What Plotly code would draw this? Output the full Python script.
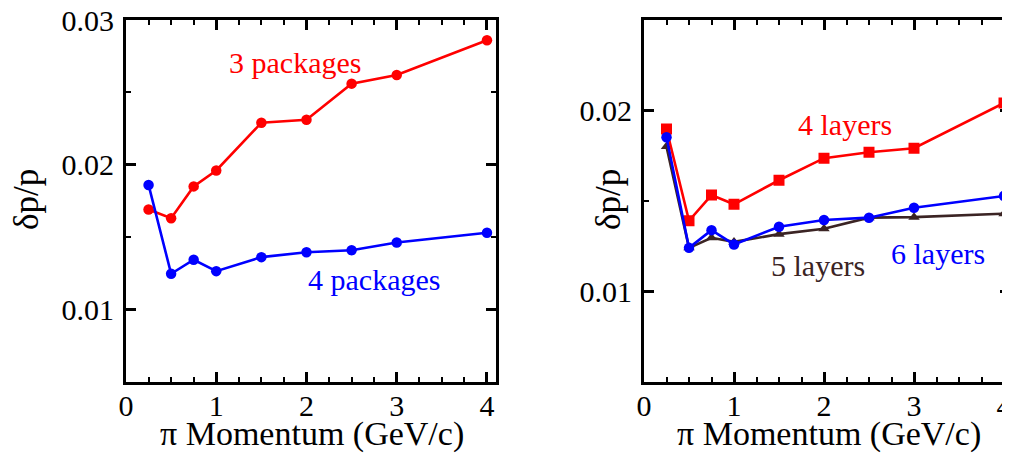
import plotly.graph_objects as go

# ---- data ----
momentum = [0.25, 0.5, 0.75, 1.0, 1.5, 2.0, 2.5, 3.0, 4.0]

pkg3 = [0.0169, 0.0163, 0.0185, 0.0196, 0.0229, 0.0231, 0.0256, 0.0262, 0.0286]
pkg4 = [0.0186, 0.01246, 0.01343, 0.01264, 0.01361, 0.01395, 0.01409, 0.01462, 0.01529]

lay4 = [0.01897, 0.0139, 0.01532, 0.01481, 0.01614, 0.01736, 0.01769, 0.01791, 0.02041]
lay5 = [0.0180, 0.0124, 0.01296, 0.01273, 0.01316, 0.01346, 0.01407, 0.0141, 0.01429]
lay6 = [0.01852, 0.0124, 0.01338, 0.01259, 0.01357, 0.01394, 0.01407, 0.01462, 0.01527]

x_ticks = [0, 1, 2, 3, 4]
y_ticks_left = [0.01, 0.02, 0.03]
y_ticks_right = [0.01, 0.02]

x_title = "π Momentum (GeV/c)"
y_title = "δp/p"

RED = "#ff0000"
BLUE = "#0000ff"
BROWN = "#3b2424"
FONT = "Liberation Serif"

W, H = 1002, 456  # page body has an 8px margin

fig = go.Figure()

LW = 2.6
# left panel
fig.add_trace(go.Scatter(x=momentum, y=pkg3, mode="lines+markers", xaxis="x", yaxis="y",
                         line=dict(color=RED, width=LW), marker=dict(symbol="circle", size=10.5, color=RED),
                         name="3 packages", showlegend=False))
fig.add_trace(go.Scatter(x=momentum, y=pkg4, mode="lines+markers", xaxis="x", yaxis="y",
                         line=dict(color=BLUE, width=LW), marker=dict(symbol="circle", size=10.5, color=BLUE),
                         name="4 packages", showlegend=False))

# right panel
fig.add_trace(go.Scatter(x=momentum, y=lay5, mode="lines+markers", xaxis="x2", yaxis="y2",
                         line=dict(color=BROWN, width=LW), marker=dict(symbol="triangle-up", size=10, color=BROWN),
                         name="5 layers", showlegend=False))
fig.add_trace(go.Scatter(x=momentum, y=lay4, mode="lines+markers", xaxis="x2", yaxis="y2",
                         line=dict(color=RED, width=LW), marker=dict(symbol="square", size=11, color=RED),
                         name="4 layers", showlegend=False))
fig.add_trace(go.Scatter(x=momentum, y=lay6, mode="lines+markers", xaxis="x2", yaxis="y2",
                         line=dict(color=BLUE, width=LW), marker=dict(symbol="circle", size=10.5, color=BLUE),
                         name="6 layers", showlegend=False))

common = dict(showline=True, linecolor="black", linewidth=3, mirror="allticks",
              ticks="inside", ticklen=10, tickwidth=2.5, tickcolor="black",
              showgrid=False, zeroline=False, automargin=False, ticklabeloverflow="allow",
              tickfont=dict(family=FONT, size=30, color="black"),
              minor=dict(ticks="inside", ticklen=5, tickwidth=2.2, tickcolor="black", showgrid=False))

xdom_l = [118 / W, 488 / W]
xdom_r = [636 / W, 1.0]
ydom = [1 - 373.7 / H, 1 - 12 / H]

fig.update_layout(
    width=W, height=H,
    margin=dict(l=0, r=0, t=0, b=0),
    paper_bgcolor="white", plot_bgcolor="white",
    font=dict(family=FONT, color="black"),
    xaxis=dict(common, domain=xdom_l, range=[0, 4.1], tickmode="array", tickvals=x_ticks,
               ticklabelstandoff=-5, minor=dict(common["minor"], dtick=0.25, tick0=0), anchor="y"),
    yaxis=dict(common, domain=ydom, range=[0.005, 0.03 + 1e-7], tickmode="array", tickvals=y_ticks_left,
               ticktext=[f"{v:.2f}" for v in y_ticks_left],
               ticklabelstandoff=3, minor=dict(common["minor"], dtick=0.005, tick0=0), anchor="x"),
    xaxis2=dict(common, domain=xdom_r, range=[0, 366 / 90], tickmode="array", tickvals=x_ticks,
                ticklabelstandoff=-5, minor=dict(common["minor"], dtick=0.25, tick0=0), anchor="y2"),
    yaxis2=dict(common, domain=ydom, range=[0.005, 0.025], tickmode="array", tickvals=y_ticks_right,
                ticktext=[f"{v:.2f}" for v in y_ticks_right],
                ticklabelstandoff=3, minor=dict(common["minor"], dtick=0.005, tick0=0), anchor="x2"),
)

# axis titles (placed as paper annotations to match the reference positions)
title_font = dict(family=FONT, size=34, color="black")
ytitle_font = dict(family=FONT, size=35, color="black")
for xc in (304, 821):
    fig.add_annotation(text=x_title, x=xc / W, y=1 - 426 / H, xref="paper", yref="paper",
                       showarrow=False, xanchor="center", yanchor="middle", font=title_font)
for xc in (18, 600):
    fig.add_annotation(text=y_title, x=xc / W, y=1 - 192 / H, xref="paper", yref="paper",
                       showarrow=False, xanchor="center", yanchor="middle", textangle=-90, font=ytitle_font)

ann_font = 30
annotations = [
    dict(text="3 packages", x=1.87, y=0.02703, xref="x", yref="y", color=RED),
    dict(text="4 packages", x=2.75, y=0.01203, xref="x", yref="y", color=BLUE),
    dict(text="4 layers", x=2.23, y=0.0192, xref="x2", yref="y2", color=RED),
    dict(text="5 layers", x=1.93, y=0.01145, xref="x2", yref="y2", color=BROWN),
    dict(text="6 layers", x=3.27, y=0.01211, xref="x2", yref="y2", color=BLUE),
]
for a in annotations:
    fig.add_annotation(text=a["text"], x=a["x"], y=a["y"], xref=a["xref"], yref=a["yref"],
                       showarrow=False, xanchor="center", yanchor="middle",
                       font=dict(family=FONT, size=ann_font, color=a["color"]))

fig.write_html("out.html")
